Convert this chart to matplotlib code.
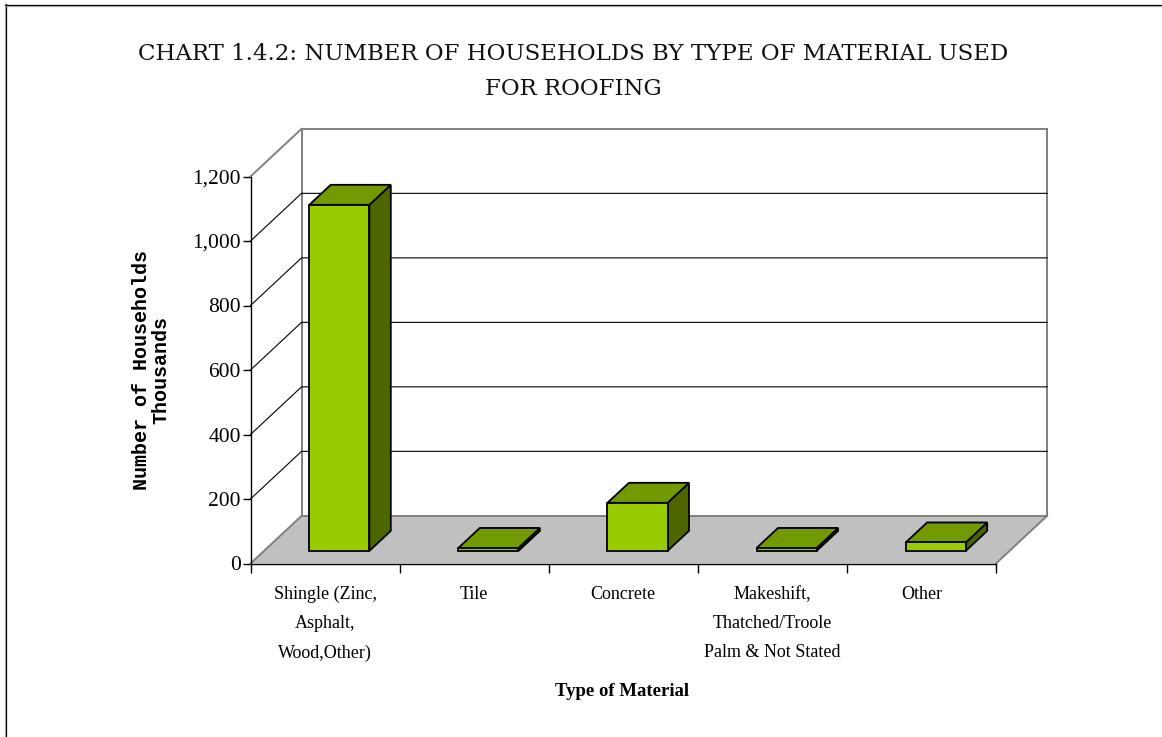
import matplotlib
matplotlib.use("Agg")
import matplotlib.pyplot as plt
from matplotlib.lines import Line2D
from matplotlib.patches import Polygon

materials = ["Shingle (Zinc,\nAsphalt,\nWood,Other)", "Tile", "Concrete",
             "Makeshift,\nThatched/Troole\nPalm & Not Stated", "Other"]
households = [1073, 9, 149, 9, 26]
yticks = [0, 200, 400, 600, 800, 1000, 1200]
title = "CHART 1.4.2: NUMBER OF HOUSEHOLDS BY TYPE OF MATERIAL USED\nFOR ROOFING"

W, H = 1162, 737
SERIF = "Liberation Serif"

# fake 3d depth, in data units (51 px across, 47.6 px up)
DEPTH_X = 51 / 149
DEPTH_V = 47.6 / 0.3222
BAR_WIDTH = 0.403
BAR_SHIFT = 0.005
BAR_D0, BAR_D1 = 0.265, 0.685


def proj(x, v, d=0.0):
    return (x + d * DEPTH_X, v + d * DEPTH_V)


fig = plt.figure(figsize=(W / 100, H / 100), dpi=100)

# page frame, only left and top are drawn in the original
for xs, ys, col in [([4.5, 4.5], [5, H], "#BBBBBB"), ([5.5, 5.5], [4, H], "black"),
                    ([5, W], [5.5, 5.5], "#BBBBBB"), ([5, W], [4.5, 4.5], "black")]:
    fig.add_artist(Line2D([x / W for x in xs], [1 - y / H for y in ys], color=col, lw=0.9,
                          transform=fig.transFigure))

ax = fig.add_axes([250.5 / W, 1 - 563.5 / H, 745.5 / W, 387 / H])
ax.set_xlim(0, len(materials))
ax.set_ylim(0, 1200)
ax.patch.set_visible(False)
for s in ["top", "right"]:
    ax.spines[s].set_visible(False)
ax.spines["left"].set_linewidth(1)
ax.spines["bottom"].set_linewidth(1)

n = len(materials)

# floor
ax.add_patch(Polygon([proj(0, 0), proj(n, 0), proj(n, 0, 1), proj(0, 0, 1)],
                     fc="#C0C0C0", ec="none", clip_on=False, zorder=1))

# walls
wall = "#808080"
for a, b in [((0, 0, 0), (0, 0, 1)), ((n, 0, 0), (n, 0, 1)), ((0, 0, 1), (n, 0, 1)),
             ((0, 0, 1), (0, 1200, 1)), ((n, 0, 1), (n, 1200, 1)), ((0, 1200, 1), (n, 1200, 1)),
             ((0, 1200, 0), (0, 1200, 1))]:
    p, q = proj(*a), proj(*b)
    ax.plot([p[0], q[0]], [p[1], q[1]], color=wall, lw=1.4, clip_on=False, zorder=2)

# gridlines run from the front axis back and along the wall
for v in yticks[1:-1]:
    pts = [proj(0, v), proj(0, v, 1), proj(n, v, 1)]
    ax.plot([p[0] for p in pts], [p[1] for p in pts], color="black", lw=0.8, clip_on=False, zorder=2)

# bars
for i, val in enumerate(households):
    x0 = i + 0.5 + BAR_SHIFT - BAR_WIDTH / 2
    x1 = i + 0.5 + BAR_SHIFT + BAR_WIDTH / 2
    top = [proj(x0, val, BAR_D0), proj(x1, val, BAR_D0), proj(x1, val, BAR_D1), proj(x0, val, BAR_D1)]
    side = [proj(x1, 0, BAR_D0), proj(x1, 0, BAR_D1), proj(x1, val, BAR_D1), proj(x1, val, BAR_D0)]
    front = [proj(x0, 0, BAR_D0), proj(x1, 0, BAR_D0), proj(x1, val, BAR_D0), proj(x0, val, BAR_D0)]
    for pts, col in [(side, "#4D6600"), (top, "#739900"), (front, "#99CC00")]:
        ax.add_patch(Polygon(pts, fc=col, ec="black", lw=1.3, joinstyle="miter", clip_on=False, zorder=3))

ax.set_yticks(yticks)
ax.set_yticklabels([f"{v:,}" for v in yticks], fontfamily=SERIF, fontsize=15.5)
ax.tick_params(axis="y", length=5.5, width=1, pad=1.5)

ax.set_xticks(range(n + 1))
ax.set_xticklabels([])
ax.tick_params(axis="x", which="major", length=6.5, width=1)
ax.set_xticks([i + 0.5 for i in range(n)], minor=True)
ax.set_xticklabels(materials, minor=True, fontfamily=SERIF, fontsize=13, linespacing=1.95)
ax.tick_params(axis="x", which="minor", length=0, pad=16)

fig.text(573 / W, 1 - 71.5 / H, title, ha="center", va="center", family="DejaVu Serif",
         fontsize=16.5, linespacing=1.8, color="#111111")
fig.text(622 / W, 1 - 691 / H, "Type of Material", ha="center", va="center", family=SERIF,
         fontsize=13.5, fontweight="bold")
fig.text(151 / W, 1 - 370 / H, "Number of Households\nThousands", ha="center", va="center",
         rotation=90, family="Liberation Mono", fontsize=14.4, linespacing=1.05, fontweight="bold")

fig.savefig("out.png", dpi=100)
